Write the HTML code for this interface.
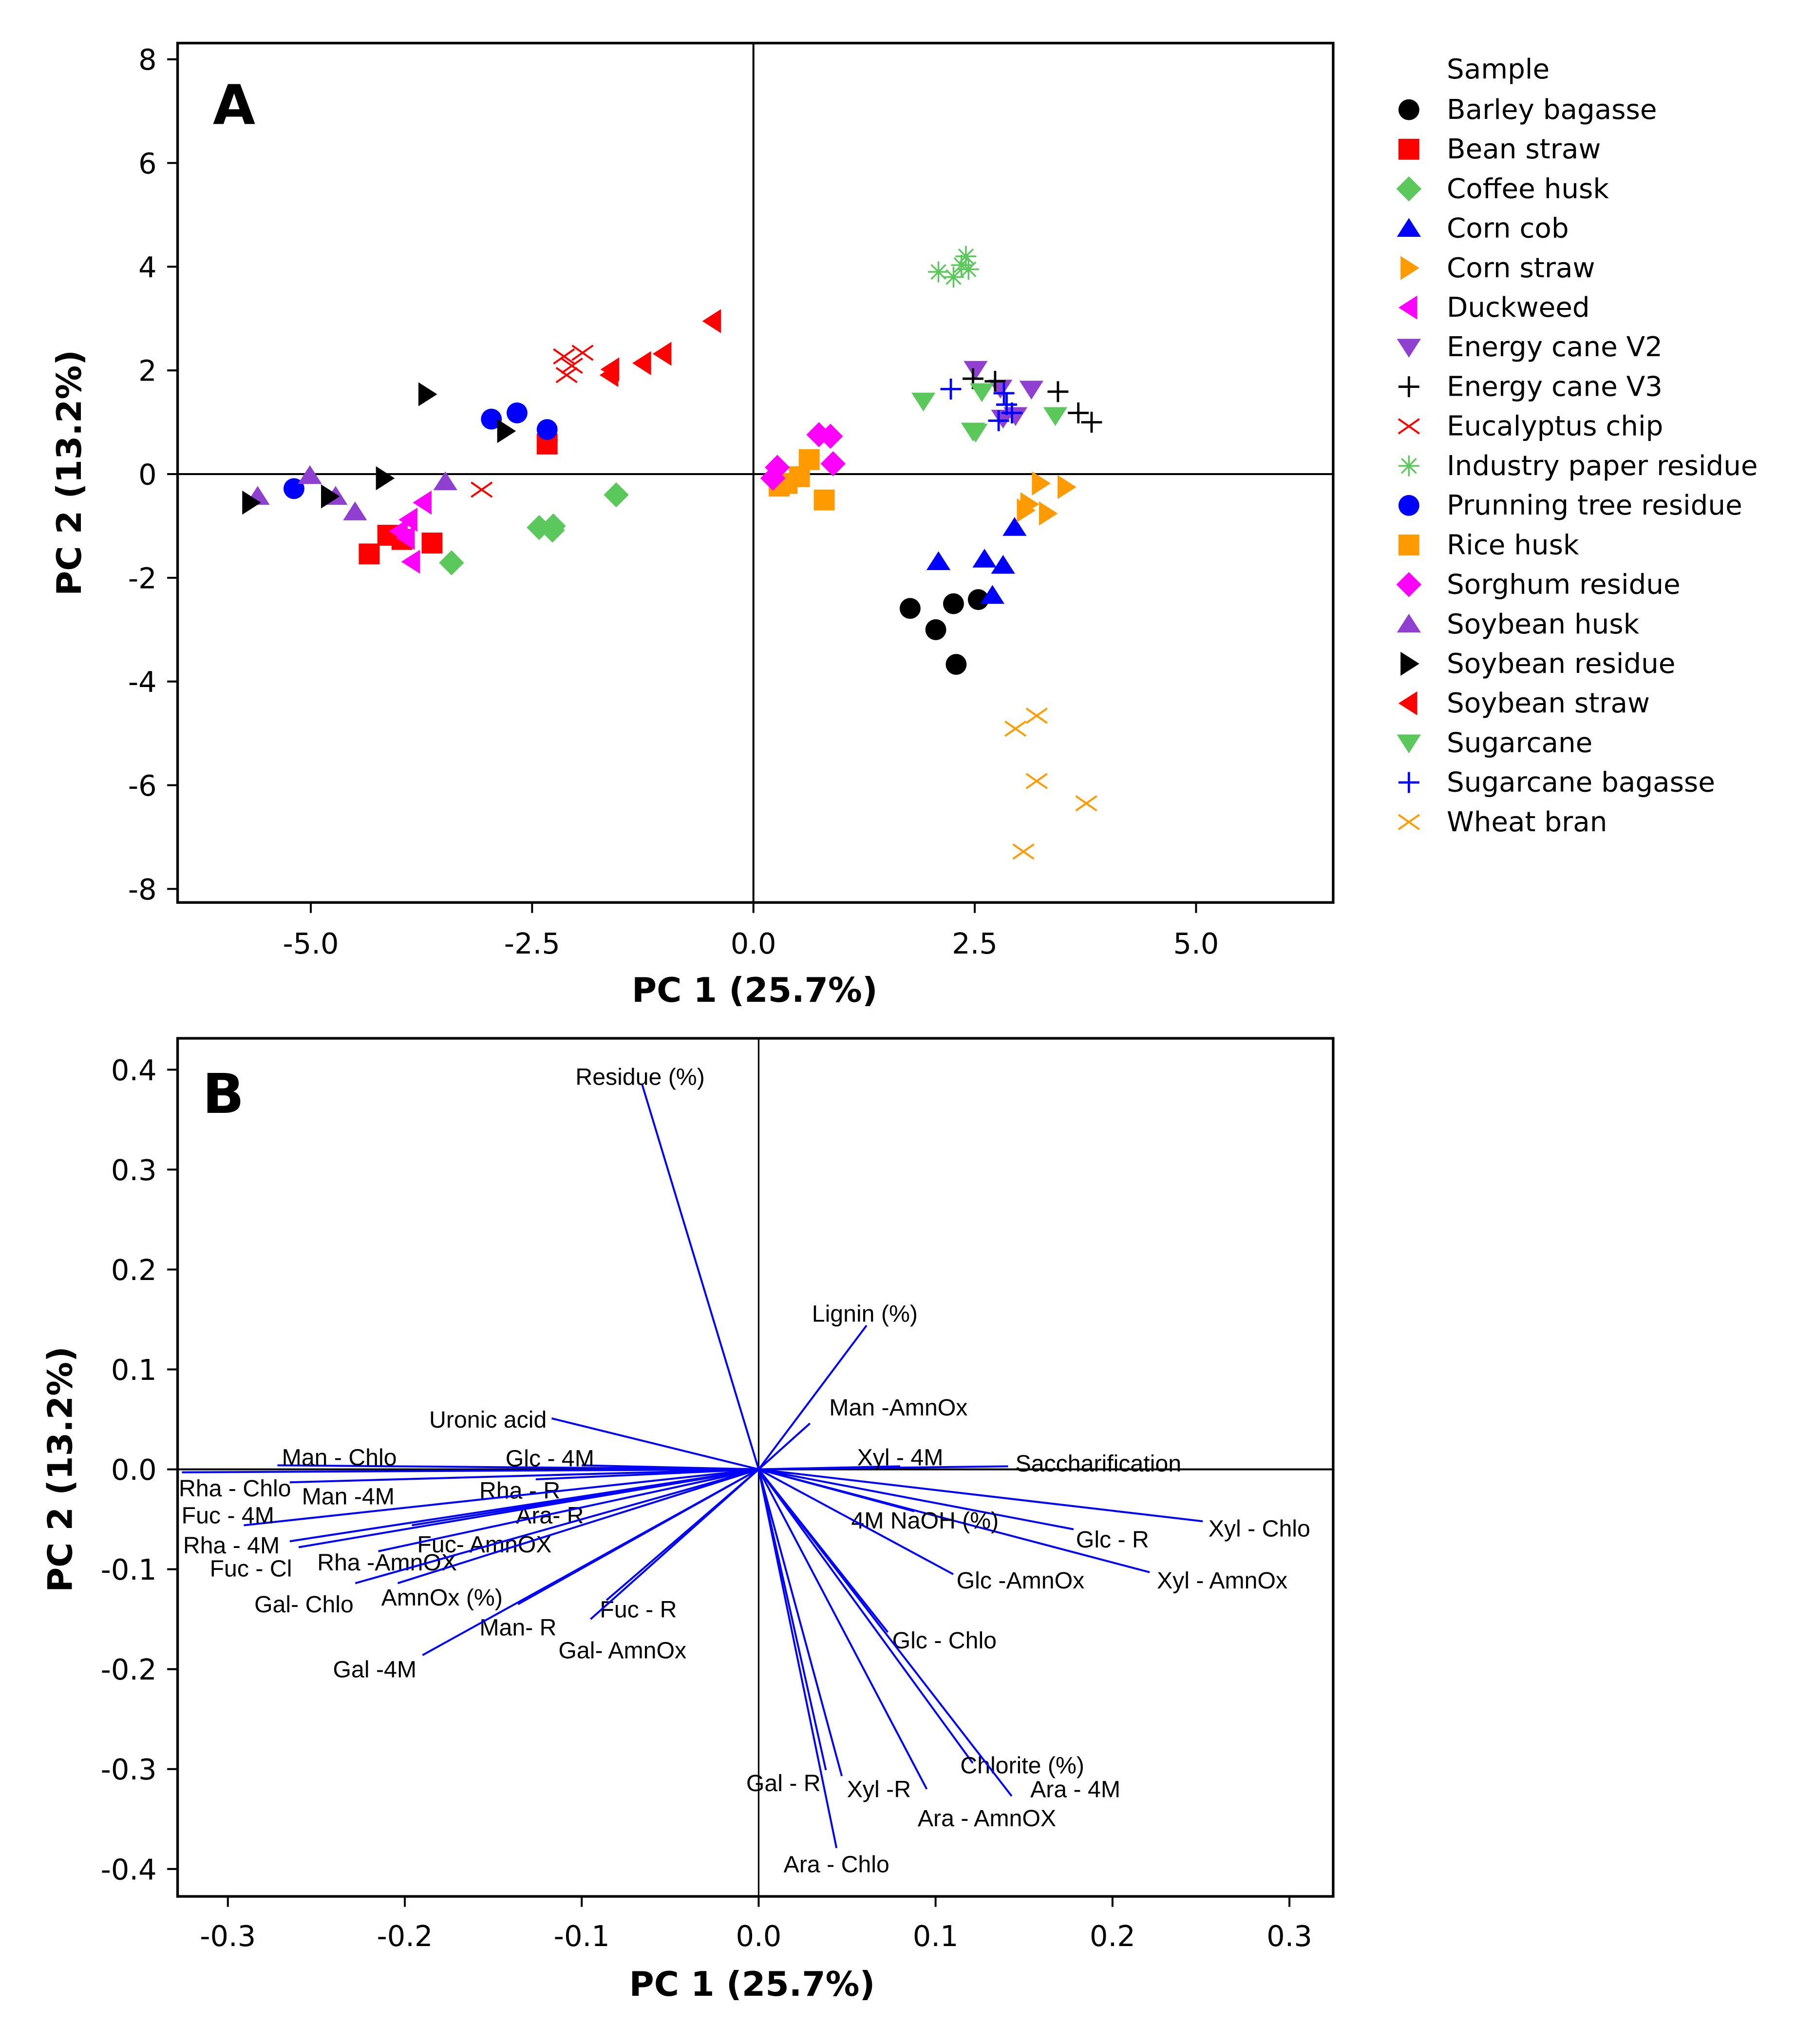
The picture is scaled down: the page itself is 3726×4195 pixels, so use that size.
<!DOCTYPE html>
<html><head><meta charset="utf-8"><style>
html,body{margin:0;padding:0;background:#fff}
svg{display:block}
.tk{font-family:"DejaVu Sans","Liberation Sans",sans-serif;font-size:22px;fill:#000}
.ttl{font-family:"DejaVu Sans","Liberation Sans",sans-serif;font-size:26px;font-weight:bold;fill:#000}
.lg{font-family:"DejaVu Sans","Liberation Sans",sans-serif;font-size:21px;fill:#000}
.ld{font-family:"Liberation Sans",sans-serif;font-size:18px;fill:#000}
</style></head><body>
<svg id="chart" width="3726" height="4195" viewBox="0 0 1390 1565" xmlns="http://www.w3.org/2000/svg">
<g id="pa"></g>
<g id="pb"></g>
<g id="lg"></g>
</svg>
<script>
const NS="http://www.w3.org/2000/svg";
const samples=["Barley bagasse","Bean straw","Coffee husk","Corn cob","Corn straw","Duckweed","Energy cane V2","Energy cane V3","Eucalyptus chip","Industry paper residue","Prunning tree residue","Rice husk","Sorghum residue","Soybean husk","Soybean residue","Soybean straw","Sugarcane","Sugarcane bagasse","Wheat bran"];
const colors=["#000","#f00","#5bc85b","#00f","#ff9a00","#f0f","#9040d0","#000","#f00","#5bc85b","#00f","#ff9a00","#f0f","#9040d0","#000","#f00","#5bc85b","#00f","#ff9a00"];
const shapes=["circle","square","diamond","up","right","left","down","plus","x","star","circle","square","diamond","up","right","left","down","plus","x"];
const pc1=[
[1.77,2.06,2.26,2.54,2.29],[-4.34,-4.13,-3.97,-3.63,-2.33],[-3.41,-2.42,-2.26,-1.55,-2.27],
[2.09,2.61,2.82,2.70,2.95],[3.24,3.53,3.11,3.32,3.07],[-3.73,-3.89,-3.92,-3.86,-4.0],
[2.51,2.79,3.14,2.82,2.96],[2.48,2.73,3.44,3.67,3.82],[-3.07,-2.14,-1.93,-2.11,-2.05],
[2.09,2.26,2.40,2.43,2.35],[-5.19,-2.96,-2.67,-2.33],[0.29,0.52,0.63,0.80,0.38],
[0.27,0.74,0.87,0.90,0.22],[-5.6,-5.01,-4.72,-4.5,-3.48],[-5.68,-4.79,-4.17,-3.69,-2.8],
[-1.61,-1.25,-1.02,-0.46,-1.62],[1.92,2.51,3.41,2.58,2.48],[2.23,2.83,2.86,2.77,2.92],[2.96,3.2,3.2,3.76,3.05]];
const pc2=[
[-2.59,-3.0,-2.5,-2.42,-3.67],[-1.54,-1.18,-1.26,-1.33,0.58],[-1.71,-1.03,-1.0,-0.4,-1.08],
[-1.69,-1.64,-1.76,-2.34,-1.03],[-0.18,-0.25,-0.58,-0.76,-0.7],[-0.55,-0.88,-1.23,-1.69,-1.1],
[2.02,1.66,1.64,1.08,1.13],[1.84,1.79,1.59,1.18,1.0],[-0.3,2.27,2.34,1.91,2.09],
[3.9,3.8,4.2,3.95,4.03],[-0.28,1.06,1.18,0.86],[-0.23,-0.05,0.28,-0.5,-0.18],
[0.13,0.76,0.73,0.2,-0.08],[-0.43,-0.03,-0.43,-0.73,-0.15],[-0.55,-0.43,-0.08,1.54,0.83],
[2.02,2.14,2.32,2.95,1.91],[1.41,0.81,1.13,1.59,0.83],[1.64,1.56,1.34,1.03,1.18],[-4.91,-4.66,-5.92,-6.35,-7.28]];
const aXTicks=[-5.0,-2.5,0.0,2.5,5.0];
const aYTicks=[8,6,4,2,0,-2,-4,-6,-8];
const vars=["Residue (%)","Lignin (%)","Man -AmnOx","Saccharification","Xyl - 4M","Xyl - Chlo","Xyl - AmnOx","Glc - R","4M NaOH (%)","Glc -AmnOx","Glc - Chlo","Chlorite (%)","Ara - 4M","Ara - AmnOX","Xyl -R","Gal - R","Ara - Chlo","Uronic acid","Man - Chlo","Glc - 4M","Rha - Chlo","Man -4M","Rha - R","Ara- R","Fuc - 4M","Rha - 4M","Fuc- AmnOX","Fuc - Cl","Rha -AmnOX","Gal- Chlo","AmnOx (%)","Man- R","Fuc - R","Gal- AmnOx","Gal -4M"];
const load1=[-0.066,0.061,0.029,0.141,0.08,0.251,0.221,0.178,0.088,0.11,0.073,0.121,0.143,0.095,0.047,0.038,0.044,-0.117,-0.272,-0.1,-0.326,-0.265,-0.126,-0.111,-0.291,-0.265,-0.196,-0.26,-0.215,-0.228,-0.204,-0.136,-0.086,-0.095,-0.19];
const load2=[0.386,0.144,0.046,0.003,0.003,-0.052,-0.103,-0.06,-0.042,-0.105,-0.163,-0.294,-0.327,-0.32,-0.307,-0.301,-0.379,0.051,0.004,0.004,-0.003,-0.013,-0.01,-0.033,-0.056,-0.072,-0.056,-0.078,-0.082,-0.114,-0.114,-0.135,-0.131,-0.15,-0.186];
const labX=[-0.067,0.06,0.079,0.192,0.08,0.283,0.262,0.200,0.094,0.148,0.105,0.149,0.179,0.129,0.068,0.014,0.044,-0.153,-0.237,-0.118,-0.296,-0.232,-0.135,-0.118,-0.30,-0.298,-0.155,-0.287,-0.210,-0.257,-0.179,-0.136,-0.068,-0.077,-0.217];
const labY=[0.394,0.157,0.063,0.007,0.013,-0.058,-0.11,-0.069,-0.05,-0.11,-0.17,-0.295,-0.319,-0.348,-0.319,-0.313,-0.394,0.051,0.013,0.012,-0.018,-0.026,-0.02,-0.045,-0.045,-0.075,-0.074,-0.098,-0.092,-0.134,-0.127,-0.157,-0.139,-0.180,-0.199];
const bXTicks=[-0.3,-0.2,-0.1,0.0,0.1,0.2,0.3];
const bYTicks=[0.4,0.3,0.2,0.1,0.0,-0.1,-0.2,-0.3,-0.4];

function el(p,t,a){const e=document.createElementNS(NS,t);for(const k in a)e.setAttribute(k,a[k]);p.appendChild(e);return e;}
const ax=v=>577+v*67.8, ay=v=>363-v*39.7;
const bx=v=>581+v*1355, by=v=>1125-v*765;

function marker(g,shape,cx,cy,c,r){
  let e;
  if(shape==="circle")e=el(g,"circle",{cx:cx,cy:cy,r:r,fill:c});
  else if(shape==="square")e=el(g,"rect",{x:cx-r,y:cy-r,width:2*r,height:2*r,fill:c});
  else if(shape==="diamond")e=el(g,"polygon",{points:`${cx},${cy-r*1.2} ${cx+r*1.2},${cy} ${cx},${cy+r*1.2} ${cx-r*1.2},${cy}`,fill:c});
  else if(shape==="up")e=el(g,"polygon",{points:`${cx},${cy-r} ${cx+r*1.15},${cy+r*0.8} ${cx-r*1.15},${cy+r*0.8}`,fill:c});
  else if(shape==="down")e=el(g,"polygon",{points:`${cx},${cy+r} ${cx+r*1.15},${cy-r*0.8} ${cx-r*1.15},${cy-r*0.8}`,fill:c});
  else if(shape==="right")e=el(g,"polygon",{points:`${cx+r},${cy} ${cx-r*0.8},${cy-r*1.15} ${cx-r*0.8},${cy+r*1.15}`,fill:c});
  else if(shape==="left")e=el(g,"polygon",{points:`${cx-r},${cy} ${cx+r*0.8},${cy-r*1.15} ${cx+r*0.8},${cy+r*1.15}`,fill:c});
  else if(shape==="plus")e=el(g,"path",{d:`M${cx-r},${cy}H${cx+r}M${cx},${cy-r}V${cy+r}`,stroke:c,"stroke-width":1.8,fill:"none"});
  else if(shape==="x")e=el(g,"path",{d:`M${cx-r},${cy-r*0.7}L${cx+r},${cy+r*0.7}M${cx-r},${cy+r*0.7}L${cx+r},${cy-r*0.7}`,stroke:c,"stroke-width":1.5,fill:"none"});
  else if(shape==="star")e=el(g,"path",{d:`M${cx-r},${cy}H${cx+r}M${cx},${cy-r}V${cy+r}M${cx-r*0.7},${cy-r*0.7}L${cx+r*0.7},${cy+r*0.7}M${cx-r*0.7},${cy+r*0.7}L${cx+r*0.7},${cy-r*0.7}`,stroke:c,"stroke-width":1.3,fill:"none"});
  return e;
}

// Panel A
const A=document.getElementById("pa");
const fa=el(A,"rect",{x:136,y:33,width:885,height:658,fill:"none",stroke:"#000","stroke-width":2});


el(A,"line",{x1:ax(0),x2:ax(0),y1:33,y2:691,stroke:"#000","stroke-width":1.5});
el(A,"line",{x1:136,x2:1021,y1:ay(0),y2:ay(0),stroke:"#000","stroke-width":1.5});
aXTicks.forEach(v=>{el(A,"line",{x1:ax(v),x2:ax(v),y1:691,y2:699,stroke:"#000","stroke-width":1.5});
  const t=el(A,"text",{x:ax(v),y:730,"text-anchor":"middle",class:"tk"});t.textContent=v.toFixed(1);
  
  });
aYTicks.forEach(v=>{el(A,"line",{x1:128,x2:136,y1:ay(v),y2:ay(v),stroke:"#000","stroke-width":1.5});
  const t=el(A,"text",{x:120,y:ay(v)+8,"text-anchor":"end",class:"tk"});t.textContent=v;
  
  });
let t=el(A,"text",{x:578,y:767,"text-anchor":"middle",class:"ttl"});t.textContent="PC 1 (25.7%)";


t=el(A,"text",{x:62,y:362,"text-anchor":"middle",class:"ttl",transform:"rotate(-90 62 362)"});t.textContent="PC 2 (13.2%)";


t=el(A,"text",{x:163,y:95,style:"font-family:'DejaVu Sans',sans-serif;font-weight:bold;font-size:42px"});t.textContent="A";


samples.forEach((s,i)=>{
  const g=el(A,"g",{});
  
  
  pc1[i].forEach((v,j)=>{const m=marker(g,shapes[i],ax(v),ay(pc2[i][j]),colors[i],8);
    
    });
});
// Legend
const L=document.getElementById("lg");
t=el(L,"text",{x:1108,y:60,class:"lg"});t.textContent="Sample";


samples.forEach((s,i)=>{
  const y=84+i*30.3;
  const g=el(L,"g",{});
  
  
  marker(g,shapes[i],1079,y,colors[i],8);
  const tt=el(g,"text",{x:1108,y:y+7,class:"lg"});tt.textContent=s;
});
// Panel B
const B=document.getElementById("pb");
const fb=el(B,"rect",{x:136,y:795,width:885,height:657,fill:"none",stroke:"#000","stroke-width":2});


el(B,"line",{x1:bx(0),x2:bx(0),y1:795,y2:1452,stroke:"#000","stroke-width":1.2});
el(B,"line",{x1:136,x2:1021,y1:by(0),y2:by(0),stroke:"#000","stroke-width":1.5});
bXTicks.forEach(v=>{el(B,"line",{x1:bx(v),x2:bx(v),y1:1452,y2:1460,stroke:"#000","stroke-width":1.5});
  const tt=el(B,"text",{x:bx(v),y:1490,"text-anchor":"middle",class:"tk"});tt.textContent=v.toFixed(1);
  
  });
bYTicks.forEach(v=>{el(B,"line",{x1:128,x2:136,y1:by(v),y2:by(v),stroke:"#000","stroke-width":1.5});
  const tt=el(B,"text",{x:120,y:by(v)+8,"text-anchor":"end",class:"tk"});tt.textContent=v.toFixed(1);
  
  });
t=el(B,"text",{x:576,y:1528,"text-anchor":"middle",class:"ttl"});t.textContent="PC 1 (25.7%)";


t=el(B,"text",{x:55,y:1125,"text-anchor":"middle",class:"ttl",transform:"rotate(-90 55 1125)"});t.textContent="PC 2 (13.2%)";


t=el(B,"text",{x:155,y:852,style:"font-family:'DejaVu Sans',sans-serif;font-weight:bold;font-size:42px"});t.textContent="B";


vars.forEach((v,i)=>{
  const ln=el(B,"line",{x1:bx(0),y1:by(0),x2:bx(load1[i]),y2:by(load2[i]),stroke:"#00f","stroke-width":1.5});
  
  
  const tt=el(B,"text",{x:bx(labX[i]),y:by(labY[i])+7,"text-anchor":"middle",class:"ld"});
  tt.textContent=v;
  
  
});
</script>
</body></html>
